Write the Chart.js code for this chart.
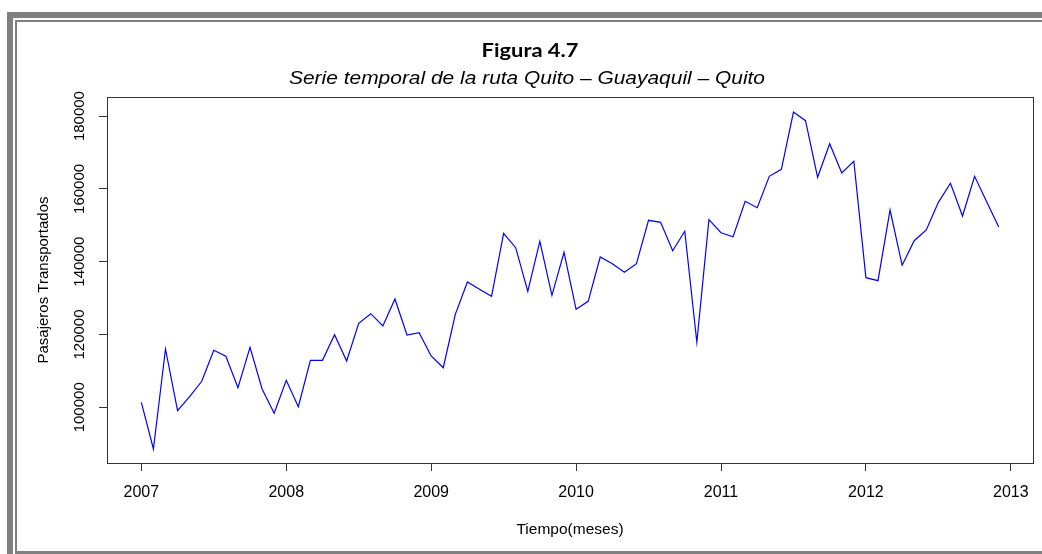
<!DOCTYPE html>
<html>
<head>
<meta charset="utf-8">
<script src="https://cdn.jsdelivr.net/npm/chart.js@4/dist/chart.umd.min.js"></script>
<style>
  html, body { margin: 0; padding: 0; background: #fff; }
  #wrap { position: relative; width: 1042px; height: 554px; overflow: hidden; background: #fff; }
  .band { position: absolute; background: #808080; }
  canvas { position: absolute; left: 0; top: 0; }
</style>
</head>
<body>
<div id="wrap">
  <div class="band" style="left:7px;top:12px;width:1035px;height:6px"></div>
  <div class="band" style="left:7px;top:12px;width:6px;height:542px"></div>
  <div class="band" style="left:15px;top:20px;width:1027px;height:2px"></div>
  <div class="band" style="left:15px;top:20px;width:2px;height:534px"></div>
  <div class="band" style="left:15px;top:551px;width:1027px;height:3px"></div>
  <canvas id="c" width="1042" height="554"></canvas>
</div>
<script>
// ---- data ----
const startYear = 2007;
const pasajeros = [
  101374, 88545, 116015, 99066, 102912, 107142, 115658, 114010, 105384, 116482, 105027, 98352,
  107417, 100165, 112911, 112911, 119943, 112719, 123075, 125712, 122333, 129750, 119861, 120493,
  114092, 110878, 125547, 134420, 132414, 130491, 147798, 143843, 131864, 145601, 130766, 142580,
  126921, 129119, 141288, 139447, 137085, 139447, 151369, 150820, 143019, 148347, 117856, 151534,
  147964, 146865, 156588, 154830, 163452, 165375, 181116, 178730, 163178, 172411, 164363, 167577,
  135601, 134777, 154198, 139008, 145766, 148705, 156313, 161534, 152551, 163452, 156478, 149529
];
const yearTicks = [2007, 2008, 2009, 2010, 2011, 2012, 2013];
const yTicks = [100000, 120000, 140000, 160000, 180000];
const tituloFigura = 'Figura 4.7';
const subtituloFigura = 'Serie temporal de la ruta Quito \u2013 Guayaquil \u2013 Quito';
const tituloX = 'Tiempo(meses)';
const tituloY = 'Pasajeros Transportados';

// ---- chart ----
const puntos = pasajeros.map((v, i) => ({ x: startYear + i / 12, y: v }));

Chart.defaults.font.family = "'Liberation Sans', Arial, sans-serif";
Chart.defaults.color = '#000';

function drawStretched(ctx, text, font, cx, baseline, targetWidth) {
  ctx.save();
  ctx.font = font;
  ctx.fillStyle = '#000';
  ctx.textAlign = 'center';
  ctx.textBaseline = 'alphabetic';
  const w = ctx.measureText(text).width;
  ctx.translate(cx, baseline);
  ctx.scale(targetWidth / w, 1);
  ctx.fillText(text, 0, 0);
  ctx.restore();
}

const decor = {
  id: 'decor',
  afterDatasetsDraw(chart) {
    const { ctx, chartArea: a } = chart;
    ctx.save();
    ctx.strokeStyle = '#333';
    ctx.lineWidth = 1;
    ctx.strokeRect(Math.round(a.left) + 0.5, Math.round(a.top) + 0.5,
                   Math.round(a.right - a.left), Math.round(a.bottom - a.top));
    ctx.restore();
  },
  afterDraw(chart) {
    const ctx = chart.ctx;
    drawStretched(ctx, tituloFigura, 'bold 18px Lato', 530, 57, 97);
    drawStretched(ctx, subtituloFigura, 'italic 18px "Liberation Sans"', 527, 83.5, 476);
  }
};

new Chart(document.getElementById('c'), {
  type: 'line',
  data: {
    datasets: [{
      data: puntos,
      borderColor: '#0000ff',
      borderWidth: 1.2,
      pointRadius: 0,
      tension: 0,
      fill: false
    }]
  },
  options: {
    responsive: false,
    animation: false,
    devicePixelRatio: 1,
    layout: { padding: { left: 0, right: 9, top: 97, bottom: 0 } },
    plugins: { legend: { display: false }, tooltip: { enabled: false }, title: { display: false } },
    scales: {
      x: {
        type: 'linear',
        min: 2006.763,
        max: 2013.153,
        afterBuildTicks: s => { s.ticks = yearTicks.map(v => ({ value: v })); },
        afterFit: s => { s.height = 91; },
        ticks: {
          callback: v => String(v),
          autoSkip: false,
          maxRotation: 0,
          minRotation: 0,
          padding: 12,
          font: { size: 16 },
          color: '#000'
        },
        grid: { drawOnChartArea: false, drawTicks: true, tickLength: 8, color: '#333', lineWidth: 1 },
        border: { display: true, color: '#333', width: 1 },
        title: { display: true, text: tituloX, font: { size: 15.5 }, color: '#000', padding: { top: 0, bottom: 14.6 } }
      },
      y: {
        type: 'linear',
        min: 84700,
        max: 185240,
        afterBuildTicks: s => { s.ticks = yTicks.map(v => ({ value: v })); },
        afterFit: s => { s.width = 107; },
        ticks: {
          callback: v => String(v),
          autoSkip: false,
          minRotation: 90,
          maxRotation: 90,
          crossAlign: 'center',
          padding: -5.5,
          font: { size: 15 },
          color: '#000'
        },
        grid: { drawOnChartArea: false, drawTicks: true, tickLength: 8, color: '#333', lineWidth: 1 },
        border: { display: true, color: '#333', width: 1 },
        title: { display: true, text: tituloY, font: { size: 15 }, color: '#000', padding: { top: 34.6, bottom: 0 } }
      }
    }
  },
  plugins: [decor]
});
</script>
</body>
</html>
